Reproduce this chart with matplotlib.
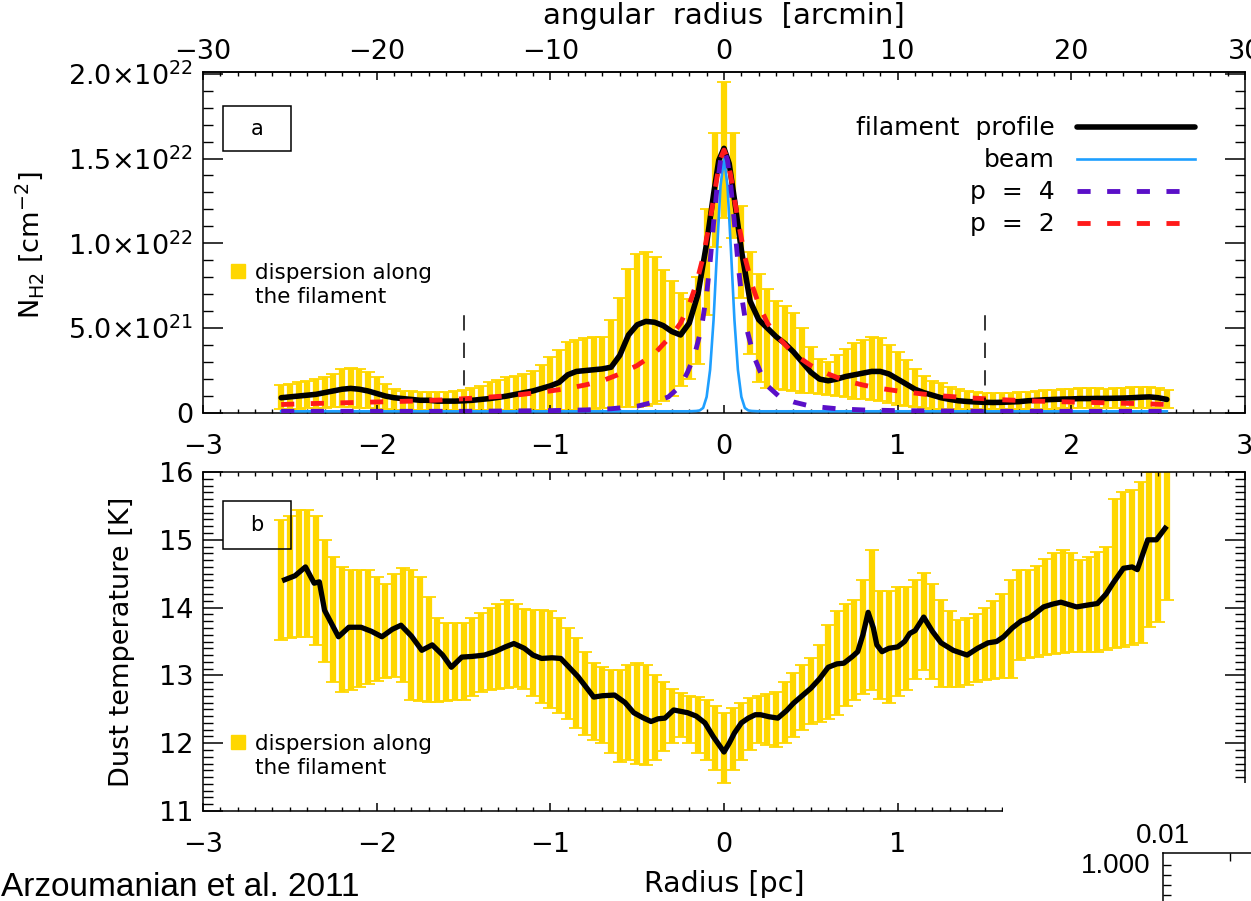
import numpy as np
import matplotlib
matplotlib.use('Agg')
import matplotlib.pyplot as plt
from matplotlib.lines import Line2D
from matplotlib.patches import Rectangle
from matplotlib.ticker import MultipleLocator, FixedLocator, FixedFormatter

# ---------------- DATA ----------------
# band sampling positions [pc]
band_r = np.round(np.arange(-2.55, 2.551, 0.05), 2)

# Panel a: N_H2 in units of 1e21 cm^-2
nh2_band_hi = [1.65, 1.7, 1.8, 1.9, 2.0, 2.1, 2.3, 2.6, 2.65, 2.6,
               2.4, 2.1, 1.7, 1.4, 1.3, 1.3, 1.25, 1.25, 1.25, 1.25,
               1.3, 1.35, 1.5, 1.6, 1.8, 1.95, 2.1, 2.2, 2.3, 2.5,
               2.8, 3.3, 3.7, 4.2, 4.3, 4.4, 4.5, 4.5, 5.5, 6.8,
               8.5, 9.4, 9.5, 9.2, 8.4, 7.8, 7.1, 6.7, 8.0, 12.0,
               16.5, 19.5, 16.5, 12.2, 9.5, 8.2, 7.3, 6.6, 6.3, 5.9,
               5.0, 3.9, 3.2, 3.0, 3.4, 3.8, 4.1, 4.3, 4.5, 4.4,
               4.0, 3.6, 3.1, 2.6, 2.2, 1.9, 1.75, 1.55, 1.4, 1.3,
               1.25, 1.2, 1.2, 1.2, 1.2, 1.25, 1.25, 1.3, 1.35, 1.35,
               1.4, 1.4, 1.45, 1.45, 1.45, 1.4, 1.45, 1.5, 1.55, 1.55,
               1.55, 1.45, 1.35]
nh2_band_lo = [0.25, 0.25, 0.25, 0.3, 0.3, 0.3, 0.35, 0.35, 0.35, 0.3,
               0.3, 0.25, 0.25, 0.2, 0.2, 0.2, 0.2, 0.2, 0.2, 0.2,
               0.2, 0.2, 0.2, 0.2, 0.2, 0.2, 0.2, 0.2, 0.2, 0.2,
               0.2, 0.2, 0.2, 0.2, 0.2, 0.25, 0.25, 0.3, 0.3, 0.35,
               0.35, 0.35, 0.4, 0.55, 0.7, 1.0, 1.6, 2.0, 2.9, 5.8,
               9.8, 11.5, 10.3, 6.8, 3.5, 1.8, 1.5, 1.4, 1.35, 1.3,
               1.2, 1.15, 1.1, 1.05, 1.0, 0.95, 0.85, 0.8, 0.75, 0.7,
               0.6, 0.5, 0.4, 0.35, 0.3, 0.25, 0.25, 0.25, 0.25, 0.25,
               0.25, 0.25, 0.25, 0.25, 0.25, 0.25, 0.25, 0.25, 0.25, 0.25,
               0.3, 0.3, 0.3, 0.3, 0.3, 0.3, 0.3, 0.3, 0.3, 0.3,
               0.3, 0.3, 0.3]

profile_r = [-2.55, -2.5, -2.45, -2.4, -2.35, -2.3, -2.25, -2.2, -2.15, -2.1,
             -2.05, -2.0, -1.95, -1.9, -1.85, -1.8, -1.75, -1.7, -1.65, -1.6,
             -1.55, -1.5, -1.45, -1.4, -1.35, -1.3, -1.25, -1.2, -1.15, -1.1,
             -1.05, -1.0, -0.95, -0.9, -0.85, -0.8, -0.75, -0.7, -0.65, -0.6,
             -0.55, -0.5, -0.45, -0.4, -0.35, -0.3, -0.25, -0.2, -0.15, -0.1,
             -0.06, -0.03, 0.0, 0.03, 0.06, 0.1, 0.15, 0.2, 0.25, 0.3,
             0.35, 0.4, 0.45, 0.5, 0.55, 0.6, 0.65, 0.7, 0.75, 0.8,
             0.85, 0.9, 0.95, 1.0, 1.05, 1.1, 1.15, 1.2, 1.25, 1.3,
             1.35, 1.4, 1.45, 1.5, 1.55, 1.6, 1.65, 1.7, 1.75, 1.8,
             1.85, 1.9, 1.95, 2.0, 2.05, 2.1, 2.15, 2.2, 2.25, 2.3,
             2.35, 2.4, 2.45, 2.5, 2.55]
profile_nh2 = [0.9, 0.95, 1.0, 1.05, 1.1, 1.2, 1.3, 1.4, 1.45, 1.4,
               1.3, 1.15, 1.0, 0.9, 0.85, 0.8, 0.75, 0.75, 0.7, 0.7,
               0.7, 0.72, 0.75, 0.8, 0.85, 0.92, 1.0, 1.1, 1.2, 1.3,
               1.45, 1.6, 1.8, 2.25, 2.45, 2.5, 2.55, 2.6, 2.7, 3.4,
               4.6, 5.2, 5.4, 5.35, 5.15, 4.8, 4.6, 5.3, 7.0, 10.0,
               12.9, 14.9, 15.6, 14.7, 12.6, 9.6, 6.6, 5.5, 5.0, 4.5,
               4.1, 3.6, 3.0, 2.4, 2.0, 1.9, 2.0, 2.15, 2.25, 2.35,
               2.45, 2.45, 2.3, 2.0, 1.7, 1.4, 1.2, 1.05, 0.9, 0.8,
               0.72, 0.68, 0.65, 0.63, 0.62, 0.63, 0.65, 0.67, 0.72, 0.75,
               0.78, 0.8, 0.82, 0.83, 0.85, 0.85, 0.86, 0.86, 0.87, 0.88,
               0.9, 0.93, 0.95, 0.9, 0.8]

beam_r = [-2.55, -0.2, -0.16, -0.14, -0.12, -0.1, -0.08, -0.06, -0.04, -0.02, 0.0,
          0.02, 0.04, 0.06, 0.08, 0.1, 0.12, 0.14, 0.16, 0.2, 2.55]
beam_nh2 = [0.1, 0.1, 0.12, 0.15, 0.3, 0.95, 2.55, 5.5, 9.6, 13.4, 15.0,
            13.4, 9.6, 5.5, 2.55, 0.95, 0.3, 0.15, 0.12, 0.1, 0.1]

p4_r = [-2.55, -2.0, -1.5, -1.0, -0.8, -0.65, -0.5, -0.4, -0.32, -0.25, -0.21, -0.17,
        -0.13, -0.1, -0.08, -0.06, -0.04, -0.02, 0.0, 0.02, 0.04, 0.06, 0.08, 0.1,
        0.13, 0.17, 0.21, 0.25, 0.32, 0.4, 0.5, 0.65, 0.8, 1.0, 1.5, 2.0, 2.55]
p4_nh2 = [0.1, 0.1, 0.1, 0.14, 0.18, 0.25, 0.4, 0.65, 0.95, 1.6, 2.4, 3.4,
          5.0, 7.0, 8.9, 11.2, 13.3, 14.9, 15.5, 14.9, 13.3, 11.2, 8.9, 7.0,
          5.0, 3.4, 2.4, 1.6, 0.95, 0.65, 0.4, 0.25, 0.18, 0.14, 0.1, 0.1, 0.1]

p2_r = [-2.55, -2.4, -2.2, -2.0, -1.8, -1.6, -1.4, -1.2, -1.0, -0.9, -0.8, -0.7,
        -0.6, -0.5, -0.4, -0.3, -0.25, -0.2, -0.16, -0.12, -0.08, -0.06, -0.04, -0.02,
        0.0, 0.02, 0.04, 0.06, 0.08, 0.12, 0.16, 0.2, 0.25, 0.3, 0.4, 0.5,
        0.6, 0.7, 0.8, 0.9, 1.0, 1.2, 1.4, 1.6, 1.8, 2.0, 2.2, 2.4, 2.55]
p2_nh2 = [0.5, 0.55, 0.6, 0.65, 0.7, 0.78, 0.9, 1.05, 1.3, 1.45, 1.65, 1.9,
          2.3, 2.8, 3.5, 4.6, 5.3, 6.4, 7.6, 9.2, 11.4, 12.6, 13.9, 15.0,
          15.5, 15.0, 13.9, 12.6, 11.4, 9.2, 7.6, 6.4, 5.3, 4.6, 3.5, 2.8,
          2.3, 1.9, 1.65, 1.45, 1.3, 1.05, 0.9, 0.78, 0.7, 0.65, 0.6, 0.55, 0.5]

fit_boundary_r = [-1.5, 1.5]
fit_boundary_top = 6.2

# Panel b: dust temperature [K]
td_band_hi = [15.29, 15.35, 15.44, 15.44, 15.35, 15.0, 14.75, 14.6, 14.56, 14.56,
              14.56, 14.45, 14.35, 14.5, 14.58, 14.56, 14.45, 14.15, 13.85, 13.77,
              13.77, 13.77, 13.85, 13.92, 14.0, 14.05, 14.11, 14.05, 13.98, 13.96,
              13.96, 13.95, 13.85, 13.7, 13.55, 13.35, 13.18, 13.12, 13.08, 13.08,
              13.15, 13.18, 13.15, 13.0, 12.9, 12.8, 12.74, 12.7, 12.68, 12.64,
              12.55, 12.45, 12.52, 12.6, 12.66, 12.7, 12.72, 12.75, 12.9, 13.04,
              13.15, 13.25, 13.45, 13.75, 13.95, 14.05, 14.11, 14.4, 14.85, 14.25,
              14.25, 14.3, 14.31, 14.4, 14.51, 14.35, 14.11, 13.95, 13.82, 13.85,
              13.9, 14.0, 14.1, 14.2, 14.4, 14.56, 14.56, 14.62, 14.72, 14.8,
              14.85, 14.8, 14.7, 14.75, 14.82, 14.9, 15.6, 15.7, 15.73, 15.85,
              16.0, 16.3, 16.3]
td_band_lo = [13.52, 13.55, 13.57, 13.57, 13.45, 13.2, 12.9, 12.76, 12.78, 12.83,
              12.88, 12.92, 12.96, 12.98, 12.9, 12.64, 12.62, 12.61, 12.61, 12.62,
              12.64, 12.64, 12.7, 12.75, 12.79, 12.8, 12.82, 12.83, 12.8, 12.7,
              12.59, 12.52, 12.45, 12.35, 12.22, 12.12, 12.05, 12.0, 11.85, 11.72,
              11.75, 11.7, 11.68, 11.75, 11.88, 12.0, 12.09, 12.0, 11.85, 11.75,
              11.6, 11.41, 11.6, 11.75, 11.9, 12.0, 11.98, 11.94, 12.0, 12.09,
              12.2, 12.28, 12.32, 12.36, 12.42, 12.55, 12.64, 12.72, 12.79, 12.65,
              12.59, 12.7, 12.79, 12.95, 13.08, 12.95, 12.83, 12.83, 12.83, 12.86,
              12.9, 12.93, 12.95, 12.96, 12.96, 13.23, 13.25, 13.27, 13.3, 13.32,
              13.33, 13.34, 13.35, 13.35, 13.35, 13.37, 13.4, 13.42, 13.45, 13.48,
              13.71, 13.79, 14.11]

td_r = [-2.53, -2.47, -2.41, -2.36, -2.33, -2.3, -2.22, -2.16, -2.09, -2.03,
        -1.97, -1.91, -1.86, -1.8, -1.74, -1.68, -1.62, -1.57, -1.51, -1.45,
        -1.38, -1.32, -1.26, -1.21, -1.15, -1.1, -1.05, -0.99, -0.94, -0.84,
        -0.75, -0.7, -0.63, -0.57, -0.52, -0.47, -0.42, -0.38, -0.34, -0.29,
        -0.25, -0.21, -0.16, -0.11, -0.06, 0.0, 0.03, 0.06, 0.1, 0.14,
        0.18, 0.21, 0.26, 0.31, 0.36, 0.4, 0.45, 0.5, 0.55, 0.6,
        0.65, 0.69, 0.74, 0.77, 0.8, 0.83, 0.86, 0.88, 0.91, 0.95,
        1.0, 1.04, 1.07, 1.1, 1.15, 1.2, 1.25, 1.32, 1.4, 1.46,
        1.52, 1.57, 1.61, 1.66, 1.71, 1.76, 1.84, 1.89, 1.94, 2.03,
        2.1, 2.15, 2.2, 2.24, 2.3, 2.35, 2.38, 2.44, 2.49, 2.54]
td_profile = [14.41, 14.47, 14.6, 14.36, 14.38, 13.96, 13.57, 13.71, 13.71, 13.65,
              13.57, 13.68, 13.74, 13.58, 13.37, 13.45, 13.3, 13.12, 13.27, 13.28,
              13.3, 13.35, 13.42, 13.47, 13.4, 13.3, 13.25, 13.26, 13.25, 12.98,
              12.68, 12.7, 12.71, 12.6, 12.45, 12.38, 12.32, 12.36, 12.37, 12.49,
              12.47, 12.45, 12.4, 12.3, 12.09, 11.87, 12.0, 12.15, 12.3, 12.37,
              12.42, 12.42, 12.39, 12.37, 12.48, 12.59, 12.7, 12.81, 12.95, 13.12,
              13.17, 13.18, 13.28, 13.35, 13.6, 13.93, 13.7, 13.45, 13.35, 13.4,
              13.42, 13.5, 13.62, 13.66, 13.86, 13.65, 13.48, 13.37, 13.3, 13.4,
              13.48, 13.5, 13.57, 13.7, 13.8, 13.85, 14.01, 14.05, 14.08, 14.01,
              14.04, 14.06, 14.2, 14.36, 14.58, 14.6, 14.56, 15.0, 15.0, 15.17]

nh2_ticks = [0, 5, 10, 15, 20]
nh2_ticklabels = ['0', r'5.0$\times$10$^{21}$', r'1.0$\times$10$^{22}$',
                  r'1.5$\times$10$^{22}$', r'2.0$\times$10$^{22}$']
pc_ticks = [-3, -2, -1, 0, 1, 2, 3]
arcmin_ticks = [-30, -20, -10, 0, 10, 20, 30]
td_ticks = [11, 12, 13, 14, 15, 16]

# ---------------- STYLE ----------------
GOLD = '#FFD700'
BEAM = '#1E9FFF'
P4C = '#5A0FC8'
P2C = '#FF1A1A'
FS = 19.5
W, H = 1251, 901

plt.rcParams['font.family'] = ['DejaVu Sans']
plt.rcParams['axes.linewidth'] = 1.1

fig = plt.figure(figsize=(W / 100, H / 100), dpi=100)
axa = fig.add_axes([203 / W, 1 - 413 / H, 1042 / W, 341 / H])
axb = fig.add_axes([203 / W, 1 - 811 / H, 1042 / W, 339 / H])


def draw_band(ax, lo, hi):
    lo = np.asarray(lo, float)
    hi = np.asarray(hi, float)
    ax.errorbar(band_r, (lo + hi) / 2, yerr=(hi - lo) / 2, fmt='none',
                ecolor=GOLD, elinewidth=4.5, capsize=5.0, capthick=1.3, zorder=1)


def disp_legend(ax, anchor):
    h1 = Line2D([], [], marker='s', ms=10, color=GOLD, ls='none')
    h2 = Line2D([], [], ls='none')
    ax.legend([h1, h2], ['dispersion along', 'the filament'], loc='upper left',
              bbox_to_anchor=anchor, frameon=False, fontsize=15.5,
              handlelength=0.8, handletextpad=0.4, labelspacing=0.2,
              borderpad=0, borderaxespad=0)


# ---- panel a ----
draw_band(axa, nh2_band_lo, nh2_band_hi)
l_prof, = axa.plot(profile_r, profile_nh2, color='k', lw=4.0, zorder=3,
                   solid_joinstyle='round', solid_capstyle='round')
l_beam, = axa.plot(beam_r, beam_nh2, color=BEAM, lw=1.9, zorder=4)
l_p4, = axa.plot(p4_r, p4_nh2, color=P4C, lw=3.5, ls=(0, (2.7, 3.4)), zorder=5)
l_p2, = axa.plot(p2_r, p2_nh2, color=P2C, lw=3.5, ls=(0, (2.7, 3.4)), zorder=6)
axa.vlines(fit_boundary_r, 0, fit_boundary_top, colors='k', lw=1.1,
           linestyles=[(0, (10, 8))], zorder=7)

axa.set_xlim(-3, 3)
axa.set_ylim(0, 20.1)
axa.xaxis.set_major_locator(FixedLocator(pc_ticks))
axa.xaxis.set_minor_locator(MultipleLocator(0.1))
axa.yaxis.set_major_locator(FixedLocator(nh2_ticks))
axa.yaxis.set_major_formatter(FixedFormatter(nh2_ticklabels))
axa.yaxis.set_minor_locator(MultipleLocator(1))
axa.tick_params(axis='x', which='major', direction='in', length=6, width=1.1,
                top=False, bottom=True, labelsize=FS, pad=15)
axa.tick_params(axis='x', which='minor', direction='in', length=3, width=1.0,
                top=False, bottom=True)
axa.tick_params(axis='y', which='major', direction='in', length=14.5, width=1.1,
                left=True, right=True, labelsize=FS, pad=7)
axa.tick_params(axis='y', which='minor', direction='in', length=7, width=1.0,
                left=True, right=True)

sec = axa.secondary_xaxis('top', functions=(lambda x: x * 10, lambda x: x / 10))
sec.xaxis.set_major_locator(FixedLocator(arcmin_ticks))
sec.xaxis.set_minor_locator(MultipleLocator(1))
sec.tick_params(axis='x', which='major', direction='in', length=6, width=1.1,
                labelsize=FS, pad=5)
sec.tick_params(axis='x', which='minor', direction='in', length=3, width=1.0)
sec.set_xlabel('angular  radius  [arcmin]', fontsize=21, labelpad=11)

axa.set_ylabel(r'N$_{\rm H2}$ [cm$^{-2}$]', fontsize=FS)
axa.yaxis.set_label_coords(-0.166, 0.493)
axa.yaxis.label.set_verticalalignment('center')

leg1 = axa.legend([l_prof, l_beam, l_p4, l_p2],
                  ['filament  profile', 'beam', 'p  =  4', 'p  =  2'],
                  loc='upper right', bbox_to_anchor=(0.952, 0.87),
                  markerfirst=False, frameon=False, fontsize=18,
                  handlelength=4.7, handletextpad=0.9, labelspacing=0.32,
                  borderpad=0, borderaxespad=0)
axa.add_artist(leg1)
disp_legend(axa, (0.025, 0.44))

axa.add_patch(Rectangle((0.0192, 0.768), 0.0653, 0.132, transform=axa.transAxes,
                        fill=False, ec='k', lw=1.1, zorder=8))
axa.text(0.0518, 0.834, 'a', transform=axa.transAxes, ha='center', va='center',
         fontsize=15, zorder=8)

# ---- panel b ----
draw_band(axb, td_band_lo, td_band_hi)
axb.plot(td_r, td_profile, color='k', lw=3.8, zorder=3, solid_joinstyle='round')
axb.set_xlim(-3, 3)
axb.set_ylim(11, 16)
axb.xaxis.set_major_locator(FixedLocator(pc_ticks))
axb.xaxis.set_minor_locator(MultipleLocator(0.1))
axb.yaxis.set_major_locator(FixedLocator(td_ticks))
axb.yaxis.set_minor_locator(MultipleLocator(0.1))
axb.tick_params(axis='x', which='major', direction='in', length=6, width=1.1,
                top=True, bottom=True, labelsize=FS, pad=15)
axb.tick_params(axis='x', which='minor', direction='in', length=3, width=1.0,
                top=True, bottom=True)
axb.tick_params(axis='y', which='major', direction='in', length=14.5, width=1.1,
                left=True, right=True, labelsize=FS, pad=7)
axb.tick_params(axis='y', which='minor', direction='in', length=7, width=1.0,
                left=True, right=True)
axb.set_ylabel('Dust temperature [K]', fontsize=FS)
axb.yaxis.set_label_coords(-0.078, 0.50)
axb.yaxis.label.set_verticalalignment('center')
axb.set_xlabel('Radius [pc]', fontsize=20.5)
axb.xaxis.set_label_coords(0.5, -0.215)
axb.xaxis.label.set_verticalalignment('center')

disp_legend(axb, (0.025, 0.228))
axb.add_patch(Rectangle((0.0192, 0.773), 0.0653, 0.1416, transform=axb.transAxes,
                        fill=False, ec='k', lw=1.1, zorder=8))
axb.text(0.0518, 0.844, 'b', transform=axb.transAxes, ha='center', va='center',
         fontsize=15, zorder=8)

# ---- slide overlay: white patch and fragment of a neighbouring plot ----
fig.add_artist(Rectangle((1003 / W, 0), 1 - 1003 / W, 1 - 783 / H,
                         transform=fig.transFigure, fc='white', ec='none', zorder=10))
frag = fig.add_axes([1163 / W, (1 - 853 / H) - 0.2, 0.2, 0.2], zorder=11)
frag.set_xlim(0, 1)
frag.set_ylim(0, 1)
frag.spines['right'].set_visible(False)
frag.spines['bottom'].set_visible(False)
frag.xaxis.tick_top()
frag.xaxis.set_major_locator(FixedLocator([0.0]))
frag.xaxis.set_major_formatter(FixedFormatter(['0.01']))
frag.xaxis.set_minor_locator(FixedLocator([0.268]))
frag.yaxis.set_major_locator(FixedLocator([1.0]))
frag.yaxis.set_major_formatter(FixedFormatter(['1.000']))
frag.yaxis.set_minor_locator(FixedLocator([0.933, 0.878, 0.822, 0.767]))
frag.tick_params(which='both', direction='in', width=1.0)
frag.tick_params(axis='y', which='major', length=0, labelsize=20, pad=9)
frag.tick_params(axis='x', which='major', length=0, labelsize=20, pad=3)
frag.tick_params(which='minor', length=6)
for t in frag.get_xticklabels() + frag.get_yticklabels():
    t.set_family('Liberation Sans')
for t in frag.get_yticklabels():
    t.set_verticalalignment('top')

fig.text(0.001, 1 - 896 / H, 'Arzoumanian et al. 2011', fontsize=24,
         family='Liberation Sans', ha='left', va='baseline')

fig.savefig('out.png', dpi=100)
